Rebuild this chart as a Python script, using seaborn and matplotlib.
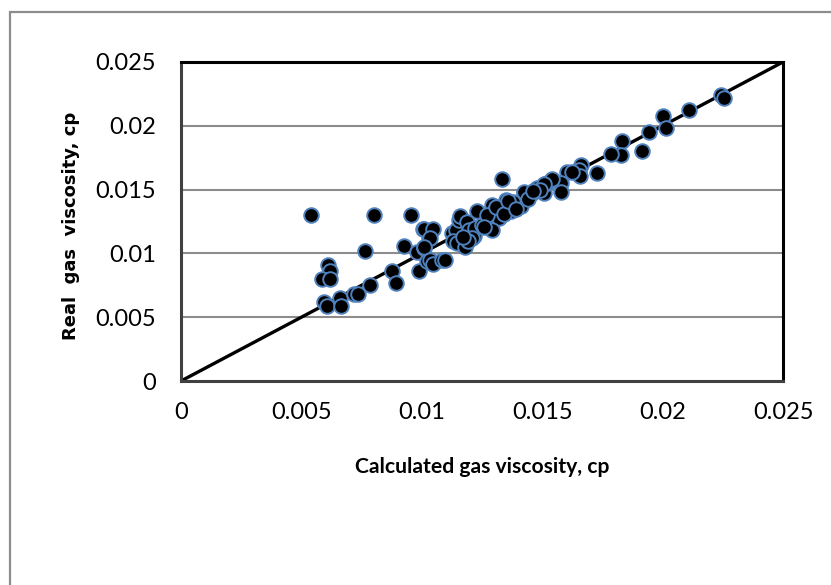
import matplotlib
matplotlib.use("Agg")
import matplotlib.pyplot as plt
import seaborn as sns
import numpy as np
import pandas as pd

# Calculated gas viscosity (cp) -- x
calc_visc = [
    0.0054, 0.0080, 0.00957, 0.01007, 0.00765, 0.00926, 0.0061, 0.00617, 0.00585, 0.00617,
    0.00595, 0.00606, 0.0066, 0.00664, 0.00717, 0.00733, 0.00783, 0.00876, 0.00894, 0.00987,
    0.0098, 0.0101, 0.0103, 0.0102, 0.01334, 0.0101, 0.01047, 0.01033, 0.0101, 0.01036,
    0.01047, 0.01084, 0.01098, 0.01126, 0.0114, 0.01154, 0.0116, 0.0113, 0.01147, 0.0118,
    0.01189, 0.01195, 0.01216, 0.0123, 0.01223, 0.0125, 0.01278, 0.01292, 0.01306, 0.0132,
    0.01348, 0.01355, 0.01369, 0.01396, 0.01424, 0.0141, 0.01459, 0.0148, 0.01507, 0.0152,
    0.02242, 0.02256, 0.0211, 0.0200, 0.02013, 0.01944, 0.01916, 0.01833, 0.01826, 0.01785,
    0.01729, 0.0166, 0.01653, 0.01657, 0.01604, 0.01625, 0.01577, 0.01542, 0.01507, 0.0149,
    0.01577, 0.01424, 0.0129, 0.0127, 0.0126, 0.0131, 0.0134, 0.0138, 0.0144, 0.0146,
    0.0121, 0.0119, 0.0117, 0.0136, 0.0139,
]
# Real gas viscosity (cp) -- y
real_visc = [
    0.0130, 0.0130, 0.0130, 0.0119, 0.0102, 0.0106, 0.0091, 0.0086, 0.0080, 0.0080,
    0.0062, 0.0059, 0.0065, 0.0059, 0.0068, 0.0068, 0.0075, 0.0086, 0.0077, 0.0086,
    0.0101, 0.0104, 0.0112, 0.0094, 0.0158, 0.0119, 0.0119, 0.0112, 0.0105, 0.0095,
    0.0092, 0.0095, 0.0095, 0.0116, 0.0118, 0.0126, 0.0129, 0.0110, 0.0108, 0.0105,
    0.0125, 0.0118, 0.0114, 0.0133, 0.0120, 0.0122, 0.0125, 0.0138, 0.0134, 0.0128,
    0.0142, 0.0138, 0.0133, 0.0139, 0.0147, 0.0137, 0.0147, 0.0151, 0.0147, 0.0155,
    0.0224, 0.0222, 0.0212, 0.0208, 0.0198, 0.0195, 0.0180, 0.0188, 0.0177, 0.0178,
    0.0163, 0.0169, 0.0165, 0.0161, 0.0164, 0.0164, 0.0155, 0.0158, 0.0154, 0.0150,
    0.0148, 0.0148, 0.0118, 0.0130, 0.0121, 0.0136, 0.0131, 0.0140, 0.0143, 0.0149,
    0.0112, 0.0110, 0.0113, 0.0141, 0.0135,
]
ticks = [0, 0.005, 0.01, 0.015, 0.02, 0.025]
tick_labels = ["0", "0.005", "0.01", "0.015", "0.02", "0.025"]
line_ends = [0, 0.025]

df = pd.DataFrame({"calc": calc_visc, "real": real_visc})

sns.set_theme(style="white")
plt.rcParams['font.family'] = ['Lato', 'DejaVu Sans']

fig = plt.figure(figsize=(8.31, 5.85), dpi=100)
# outer chart-area border
fig.patches.append(matplotlib.patches.Rectangle(
    (9.5 / 831, -0.05), 1.2, (1 - 11.5 / 585) + 0.05, transform=fig.transFigure,
    fill=False, edgecolor="#8c8c8c", linewidth=1.6, zorder=0))

ax = fig.add_axes([181 / 831, 1 - 381 / 585, 602 / 831, 319 / 585])

for t in ticks[1:-1]:
    ax.axhline(t, color="#8c8c8c", linewidth=1.5, zorder=1)

sns.lineplot(x=line_ends, y=line_ends, ax=ax, color="black", linewidth=2.4, zorder=2)
sns.scatterplot(data=df, x="calc", y="real", ax=ax, s=110, color="black",
                edgecolor="#4f81bd", linewidth=1.4, zorder=3)

ax.set_xlim(0, 0.025)
ax.set_ylim(0, 0.025)
ax.set_xticks(ticks)
ax.set_xticklabels(tick_labels)
ax.set_yticks(ticks)
ax.set_yticklabels(tick_labels)
ax.tick_params(axis="both", length=0, labelsize=17, colors="black")
ax.tick_params(axis="x", pad=15)
ax.tick_params(axis="y", pad=18)

for side in ["top", "right", "bottom", "left"]:
    ax.spines[side].set_visible(True)
    ax.spines[side].set_color("black")
    ax.spines[side].set_linewidth(2.2)
ax.spines["left"].set_color("#404040")
ax.spines["bottom"].set_color("#404040")

ax.set_xlabel("Calculated gas viscosity, cp", fontsize=15.2, fontweight="bold",
              color="black", va="center", ha="center")
ax.xaxis.set_label_coords(0.5, (381 - 467) / 319)
ax.set_ylabel("Real  gas  viscosity, cp", fontsize=13, fontweight="bold",
              family=["DejaVu Sans"], color="black", va="center", ha="center")
ax.yaxis.set_label_coords((71 - 181) / 602, (381 - 226) / 319)

fig.savefig("out.png", dpi=100)
